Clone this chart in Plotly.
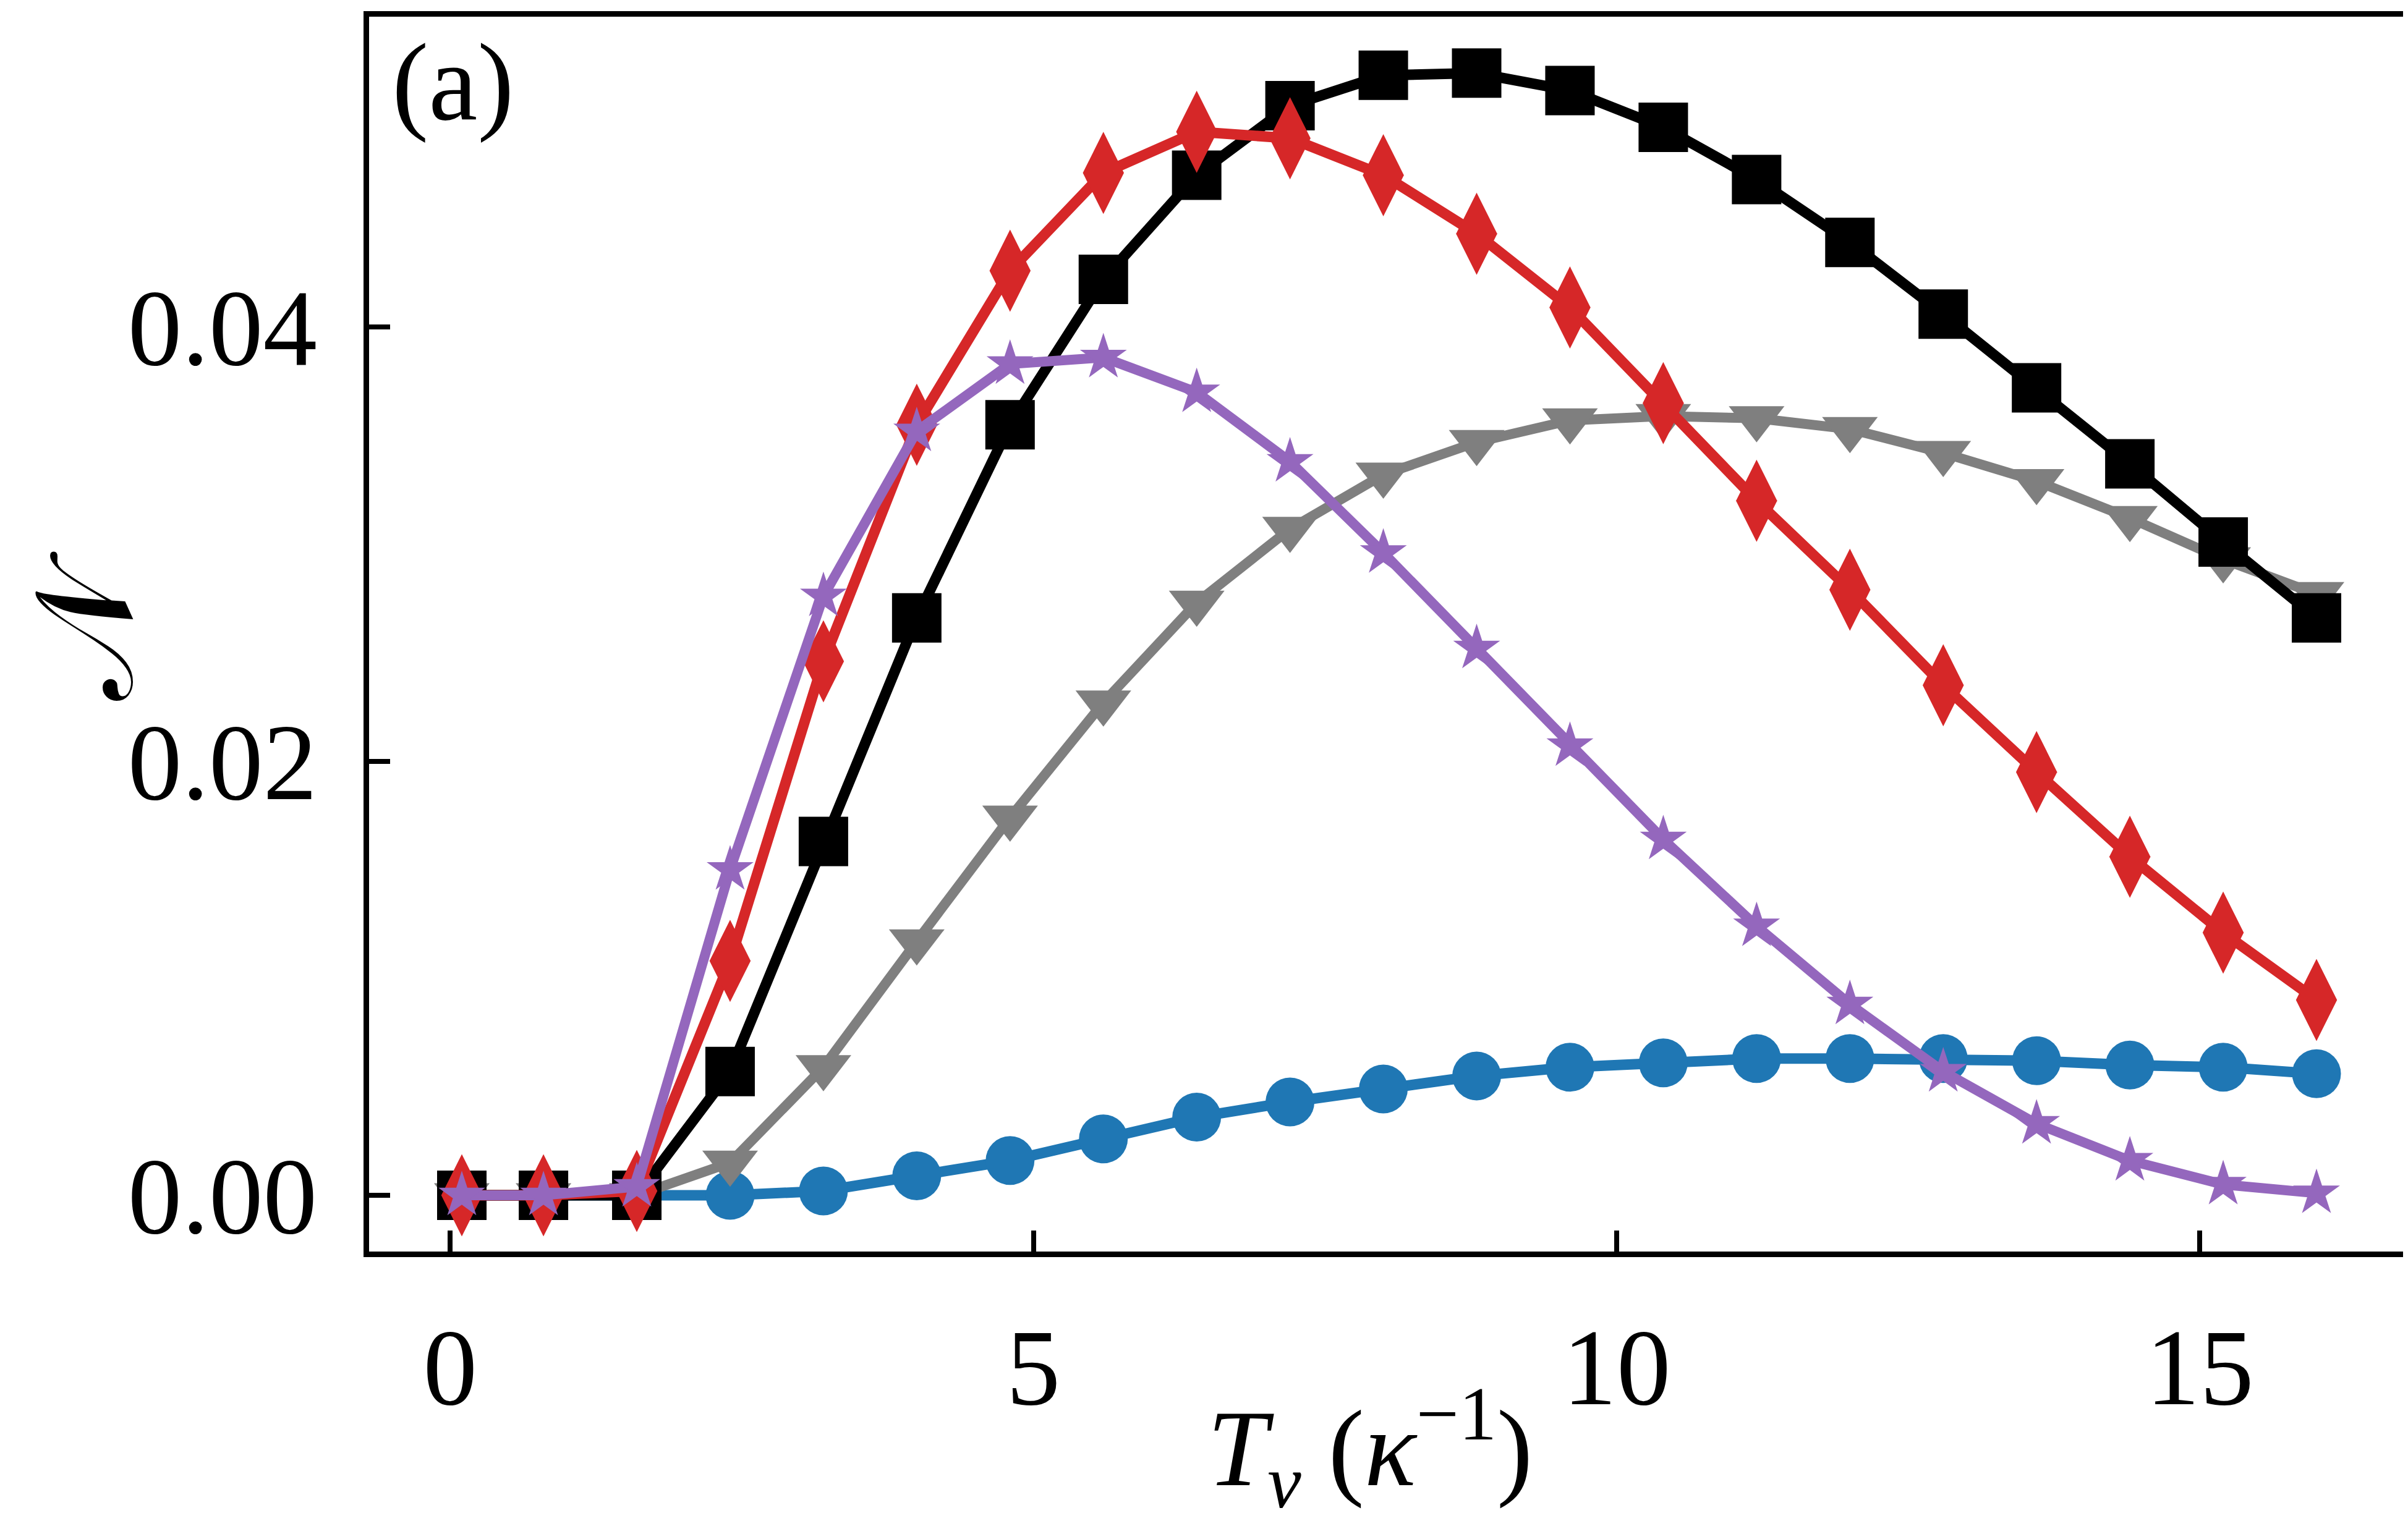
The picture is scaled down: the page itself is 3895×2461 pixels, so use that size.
import plotly.graph_objects as go

# ---- data ----
T_v = [0.1, 0.8, 1.6, 2.4, 3.2, 4.0, 4.8, 5.6, 6.4, 7.2, 8.0,
       8.8, 9.6, 10.4, 11.2, 12.0, 12.8, 13.6, 14.4, 15.2, 16.0]

N_blue = [0.0, 0.0, 0.0, 0.0000, 0.0002, 0.0009, 0.0016, 0.0026, 0.0036, 0.0043, 0.0049,
          0.0055, 0.0059, 0.0061, 0.0063, 0.0063, 0.0063, 0.0062, 0.0060, 0.0059, 0.0056]
N_gray = [0.0, 0.0, 0.0, 0.0015, 0.0059, 0.0117, 0.0174, 0.0227, 0.0273, 0.0307, 0.0332,
          0.0347, 0.0357, 0.0359, 0.0358, 0.0353, 0.0342, 0.0329, 0.0312, 0.0293, 0.0277]
N_black = [0.0, 0.0, 0.0, 0.0057, 0.0163, 0.0266, 0.0355, 0.0422, 0.0470, 0.0502, 0.0516,
           0.0517, 0.0509, 0.0492, 0.0468, 0.0439, 0.0406, 0.0372, 0.0337, 0.0301, 0.0266]
N_red = [0.0, 0.0, 0.0002, 0.0108, 0.0246, 0.0355, 0.0426, 0.0471, 0.0490, 0.0487, 0.0470,
         0.0443, 0.0409, 0.0365, 0.0320, 0.0279, 0.0235, 0.0195, 0.0156, 0.0121, 0.0090]
N_purple = [0.0, 0.0, 0.0004, 0.0150, 0.0276, 0.0352, 0.0383, 0.0386, 0.0370, 0.0338, 0.0296,
            0.0252, 0.0207, 0.0164, 0.0124, 0.0088, 0.0057, 0.0033, 0.0016, 0.0005, 0.0001]

x_ticks = [0, 5, 10, 15]
y_ticks = [0.00, 0.02, 0.04]
y_tick_text = ["0.00", "0.02", "0.04"]

x_title = "<i>T</i><sub><i>v</i></sub> (<i>κ</i><sup>−1</sup>)"
y_title = "𝒩"
panel_label = "(a)"

FONT = "Liberation Serif"

series = [
    (N_blue, "#1f77b4", "circle", 79, 17),
    (N_gray, "#7f7f7f", "triangle-down", 78, 16),
    (N_black, "#000000", "square", 80, 17),
    (N_red, "#d62728", "diamond-tall", 95, 17),
    (N_purple, "#9467bd", "star", 57, 16),
]

fig = go.Figure()
for vals, color, sym, msize, lw in series:
    fig.add_trace(go.Scatter(
        x=T_v, y=vals, mode="lines+markers",
        line=dict(color=color, width=lw),
        marker=dict(symbol=sym, size=msize, color=color, line=dict(width=0)),
        showlegend=False, cliponaxis=False,
    ))

fig.update_layout(
    width=3895, height=2461,
    margin=dict(l=589, r=6, t=19, b=444, autoexpand=False),
    paper_bgcolor="white", plot_bgcolor="white",
    font=dict(family=FONT, size=175, color="black"),
    annotations=[
        dict(text=panel_label, x=0.0412, y=0.947, xref="paper", yref="paper",
             xanchor="center", yanchor="middle", showarrow=False,
             font=dict(family=FONT, size=178, color="black")),
        dict(text=x_title, x=0.4906, y=-0.159, xref="paper", yref="paper",
             xanchor="center", yanchor="middle", showarrow=False,
             font=dict(family=FONT, size=175, color="black")),
        dict(text=y_title, x=-0.139, y=0.5065, xref="paper", yref="paper",
             xanchor="center", yanchor="middle", showarrow=False, textangle=-90,
             font=dict(family=FONT, size=222, color="black")),
    ],
)

fig.update_xaxes(
    range=[-0.695, 16.795], automargin=False,
    tickvals=x_ticks, ticks="inside", ticklen=34, tickwidth=8, tickcolor="black",
    showline=True, linewidth=9, linecolor="black", mirror=True,
    showgrid=False, zeroline=False,
    tickfont=dict(family=FONT, size=175),
    ticklabelstandoff=28,
)
fig.update_yaxes(
    range=[-0.00259, 0.0543], automargin=False,
    tickvals=y_ticks, ticktext=y_tick_text,
    ticks="inside", ticklen=34, tickwidth=8, tickcolor="black",
    showline=True, linewidth=9, linecolor="black", mirror=True,
    showgrid=False, zeroline=False,
    tickfont=dict(family=FONT, size=175),
    ticklabelstandoff=40,
)

fig.write_html("out.html")
